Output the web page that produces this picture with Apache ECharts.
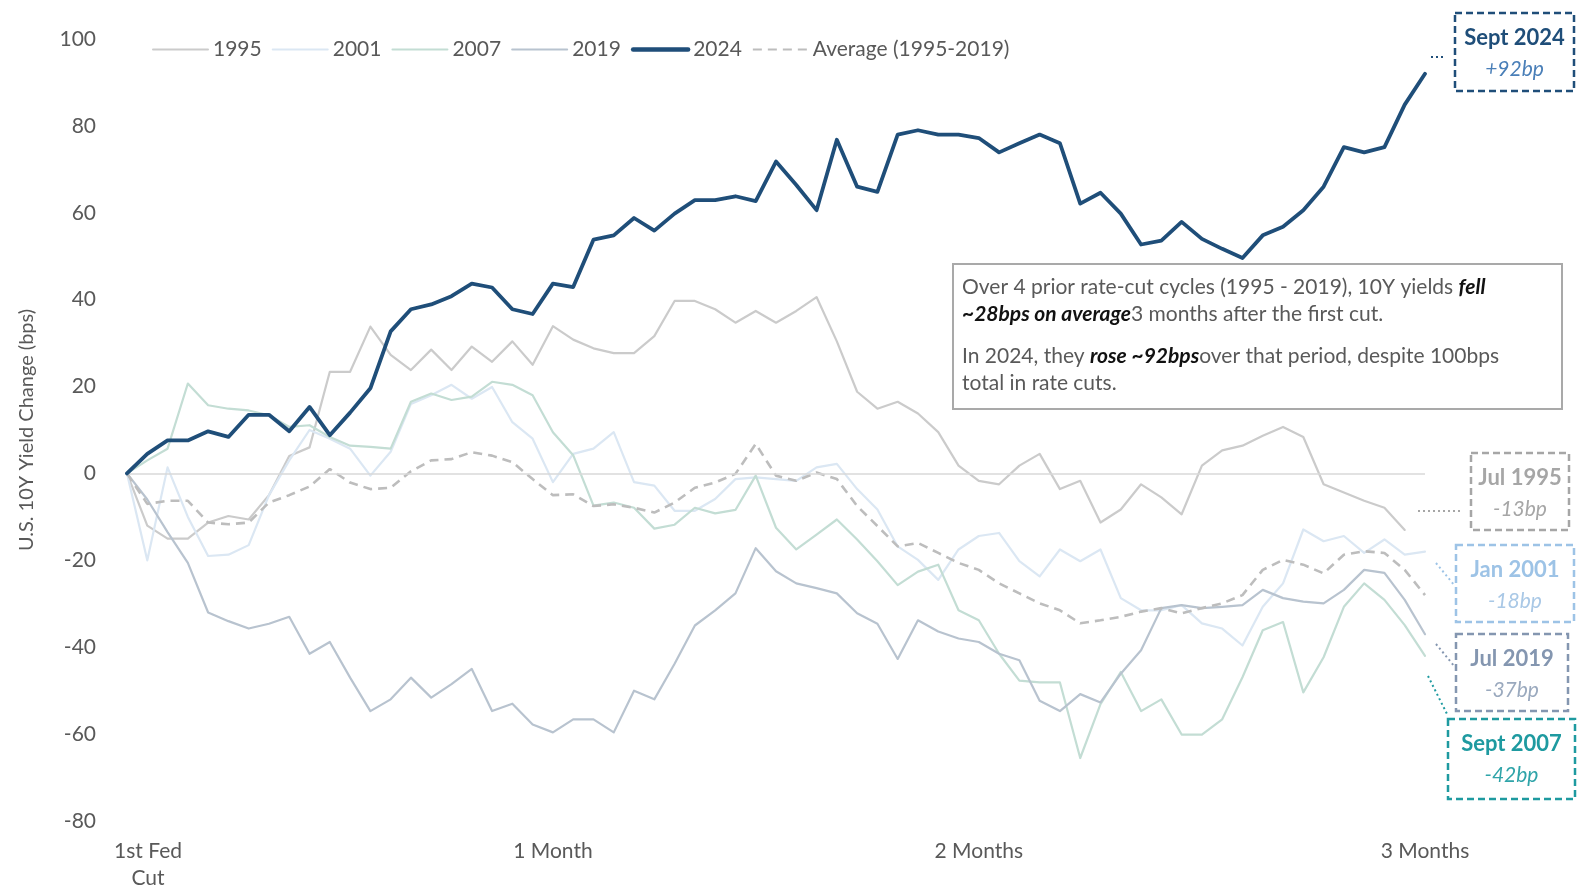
<!DOCTYPE html>
<html>
<head>
<meta charset="utf-8">
<script src="https://cdn.jsdelivr.net/npm/echarts@6/dist/echarts.min.js"></script>
<style>
  html, body { margin: 0; padding: 0; background: #ffffff; }
  #chart { width: 1577px; height: 888px; }
</style>
</head>
<body>
<div id="chart"></div>
<script>
// Trading days after the first Fed cut (0 = day of the cut)
const dayCount = 65;
const days = Array.from({ length: dayCount }, (_, i) => String(i));

// x-axis tick labels and the day they sit on
const xTickDays = [0, 21, 42, 64];
const xTickText = ['1st Fed\nCut', '1 Month', '2 Months', '3 Months'];

// y-axis range (bps)
const yMin = -80, yMax = 100, yStep = 20;

// Change in the U.S. 10Y yield since the first cut, bps
const y1995 = [0, -12, -15, -15, -11.3, -9.8, -10.6, -5, 4, 6, 23.4, 23.4, 33.8, 27.3, 23.8, 28.5, 23.8, 29.2, 25.7, 30.4,
  25, 33.9, 30.8, 28.8, 27.7, 27.7, 31.6, 39.7, 39.7, 37.8, 34.7, 37.4, 34.7, 37.4, 40.6, 30.4, 18.8, 14.9, 16.5, 13.8,
  9.5, 1.8, -1.7, -2.5, 1.8, 4.5, -3.6, -1.7, -11.3, -8.3, -2.5, -5.5, -9.4, 1.8, 5.3, 6.4, 8.7, 10.7, 8.4, -2.5,
  -4.4, -6.3, -7.9, -13];
const y2001 = [0, -20, 1.4, -10, -19, -18.7, -16.5, -5, 3, 10, 8, 5.7, -0.5, 5, 16, 18, 20.4, 17.2, 19.9, 11.8,
  8, -2, 4.5, 5.7, 9.5, -2, -2.8, -8.6, -8.6, -5.9, -1.3, -0.9, -1.3, -1.7, 1.4, 2.2, -3.6, -8.3, -16.8, -19.9,
  -24.5, -17.5, -14.4, -13.7, -20.2, -23.7, -17.5, -20.2, -17.5, -28.7, -31.5, -31.5, -30.3, -34.5, -35.7, -39.6, -30.7, -25.3, -12.9, -15.6,
  -14.4, -18.3, -15.2, -18.7, -18];
const y2007 = [0, 3, 5.7, 20.7, 15.7, 14.9, 14.5, 13.4, 10.7, 11.1, 8.4, 6.4, 6.1, 5.7, 16.5, 18.4, 16.9, 17.7, 21.1, 20.4,
  18, 9.5, 4.2, -7.4, -6.7, -7.9, -12.7, -11.8, -7.9, -9.2, -8.4, -0.5, -12.5, -17.5, -14.1, -10.6, -15.2, -20.2, -25.7, -22.6,
  -21, -31.5, -33.8, -41.5, -47.7, -48.1, -48.1, -65.5, -53.1, -45.7, -54.7, -52, -60.1, -60.1, -56.6, -46.9, -36.1, -34.2, -50.4, -42.3,
  -30.7, -25.3, -29.1, -34.9, -42];
const y2019 = [0, -6, -13.5, -20.6, -32, -34, -35.7, -34.6, -33, -41.5, -38.8, -47, -54.7, -52, -47, -51.6, -48.5, -45, -54.7, -53,
  -57.8, -59.6, -56.6, -56.6, -59.6, -50, -52, -43.8, -35, -31.5, -27.6, -17.2, -22.5, -25.3, -26.4, -27.6, -32.2, -34.6, -42.7, -33.8,
  -36.4, -38, -38.8, -41.5, -43, -52.3, -54.7, -50.8, -52.7, -46.1, -40.7, -31, -30.3, -31, -30.7, -30.3, -26.8, -28.7, -29.5, -29.9,
  -26.8, -22.2, -22.9, -29.1, -37];
const y2024 = [0, 4.5, 7.6, 7.6, 9.7, 8.4, 13.5, 13.5, 9.7, 15.3, 8.8, 14, 19.6, 32.7, 37.8, 38.9, 40.8, 43.7, 42.8, 37.8,
  36.7, 43.7, 42.9, 53.8, 54.8, 58.8, 55.9, 59.8, 62.9, 62.9, 63.8, 62.7, 71.8, 66.4, 60.6, 76.8, 66, 64.8, 78, 79,
  78, 78, 77.2, 73.9, 76, 78, 76, 62.1, 64.6, 59.8, 52.7, 53.6, 57.9, 54, 51.7, 49.6, 54.8, 56.8, 60.6, 66,
  75.1, 73.9, 75.1, 84.9, 92];
const yAvg = [0, -7, -6.3, -6.3, -11.3, -11.7, -11.3, -6.7, -5, -3, 1, -2.1, -3.6, -3.3, 0.5, 3, 3.3, 4.9, 4.1, 2.6,
  -1.3, -5, -4.8, -7.5, -7.1, -7.9, -9, -6.7, -3.3, -2.1, -0.1, 6.8, -0.5, -1.7, 0.2, -1.3, -7.5, -12.1, -16.8, -16,
  -18.3, -20.6, -22.2, -25.3, -27.6, -29.9, -31.5, -34.5, -33.8, -33, -31.8, -31, -32.2, -31, -29.9, -28, -22.2, -19.9, -21, -23,
  -18.7, -17.9, -18.3, -22.2, -28];

const FONT = 'Lato, "Noto Sans", sans-serif';
const TEXT = '#595959';
const FS = 21;

const last = arr => arr[arr.length - 1];
const bp = v => (v > 0 ? '+' : '') + Math.round(v) + 'bp';

const chart = echarts.init(document.getElementById('chart'), null, { renderer: 'canvas' });

function lineSeries(name, data, color, width, extra) {
  return Object.assign({
    name, type: 'line', data,
    symbol: 'none', showSymbol: false,
    lineStyle: { color, width, cap: 'round', join: 'round' },
    itemStyle: { color },
    emphasis: { disabled: true },
    silent: true
  }, extra || {});
}

// Dashed call-out box with a cycle name and its 3-month change
function tag(x, y, w, h, color, title, value, valueColor) {
  return {
    type: 'group', x, y, silent: true,
    children: [
      { type: 'rect', shape: { x: 0, y: 0, width: w, height: h },
        style: { fill: '#ffffff', stroke: color, lineWidth: 2.5, lineDash: [7, 4] } },
      { type: 'text', x: w / 2, y: 25,
        style: { text: title, fill: color, font: `bold 22px ${FONT}`, align: 'center', verticalAlign: 'middle' } },
      { type: 'text', x: w / 2, y: 56,
        style: { text: value, fill: valueColor, font: `italic 21px ${FONT}`, align: 'center', verticalAlign: 'middle' } }
    ]
  };
}

function dots(points, color) {
  return { type: 'polyline', silent: true, shape: { points },
    style: { stroke: color, lineWidth: 2, lineDash: [2, 3], fill: null } };
}

const avgText = '~' + Math.abs(Math.round(last(yAvg))) + 'bps on average';
const riseText = 'rose ~' + Math.round(last(y2024)) + 'bps';

chart.setOption({
  animation: false,
  backgroundColor: '#ffffff',
  textStyle: { fontFamily: FONT },
  grid: { left: 127, right: 152, top: 39, bottom: 67, containLabel: false, outerBoundsMode: 'none' },
  legend: {
    left: 147, top: 34,
    itemWidth: 55, itemHeight: 14, itemGap: 10,
    itemStyle: { opacity: 0, borderWidth: 0 },
    textStyle: { color: TEXT, fontSize: FS, fontFamily: FONT },
    data: ['1995', '2001', '2007', '2019', { name: '2024', lineStyle: { width: 4.5 } }, 'Average (1995-2019)'],
    selectedMode: false
  },
  xAxis: {
    type: 'category', data: days, boundaryGap: false,
    axisLine: { show: false, onZero: false }, axisTick: { show: false },
    splitLine: { show: false },
    axisLabel: {
      interval: 0, margin: 17, color: TEXT, fontSize: FS, lineHeight: 27, fontFamily: FONT,
      formatter: (v, i) => {
        const k = xTickDays.indexOf(Number(v));
        if (k < 0) return '';
        if (k === 0) return xTickText[0].split('\n').map(s => '{f|' + s + '}').join('\n');
        return xTickText[k];
      },
      rich: { f: { color: TEXT, fontSize: FS, lineHeight: 27, fontFamily: FONT, padding: [0, 0, 0, 42] } }
    }
  },
  yAxis: {
    type: 'value', min: yMin, max: yMax, interval: yStep,
    name: 'U.S. 10Y Yield Change (bps)', nameLocation: 'middle', nameGap: 90, nameRotate: 90,
    nameTextStyle: { color: TEXT, fontSize: 20, fontFamily: FONT },
    axisLine: { show: false }, axisTick: { show: false }, splitLine: { show: false },
    axisLabel: { color: TEXT, fontSize: FS, margin: 31, fontFamily: FONT, padding: [4, 0, 0, 0] }
  },
  series: [
    lineSeries('1995', y1995, '#cbcbcb', 2.2, {
      markLine: { silent: true, symbol: 'none', label: { show: false },
        lineStyle: { color: '#d9d9d9', width: 1.5, type: 'solid' }, data: [{ yAxis: 0 }] }
    }),
    lineSeries('2001', y2001, '#dbe7f3', 2.2),
    lineSeries('2007', y2007, '#c3ddd4', 2.2),
    lineSeries('2019', y2019, '#b8c3cf', 2.2),
    lineSeries('Average (1995-2019)', yAvg, '#bdbdbd', 2.6, { lineStyle: { color: '#bdbdbd', width: 2.6, type: [9, 6] } }),
    lineSeries('2024', y2024, '#1f4e79', 3.8, { z: 5 })
  ],
  graphic: [
    // commentary box
    { type: 'rect', silent: true, shape: { x: 953, y: 264, width: 609, height: 145 },
      style: { fill: '#ffffff', stroke: '#a9a9a9', lineWidth: 2 },
      z: 10 },
    { type: 'text', silent: true, x: 962, y: 274, z: 11,
      style: {
        text: '{n|Over 4 prior rate-cut cycles (1995 - 2019), 10Y yields }{b|fell}\n' +
              '{b|' + avgText + '}{n|3 months after the first cut.}\n' +
              '{g| }\n' +
              '{n|In 2024, they }{b|' + riseText + '}{n|over that period, despite 100bps}\n' +
              '{n|total in rate cuts.}',
        rich: {
          n: { fill: TEXT, font: `${FS}px ${FONT}`, lineHeight: 27 },
          b: { fill: '#111111', font: `italic bold ${FS}px ${FONT}`, lineHeight: 27 },
          g: { font: `8px ${FONT}`, lineHeight: 15 }
        }
      } },

    // end-of-period call-outs
    tag(1455, 13, 119, 78, '#1f4e79', 'Sept 2024', bp(last(y2024)), '#4a7fb8'),
    dots([[1431, 57], [1445, 57]], '#1f4e79'),

    tag(1471, 453, 98, 77, '#a6a6a6', 'Jul 1995', bp(last(y1995)), '#a6a6a6'),
    dots([[1418, 511], [1462, 511]], '#a6a6a6'),

    tag(1456, 545, 118, 77, '#9dc3e6', 'Jan 2001', bp(last(y2001)), '#a9c8e6'),
    dots([[1436, 563], [1455, 586]], '#9dc3e6'),

    tag(1456, 634, 112, 77, '#8496b0', 'Jul 2019', bp(last(y2019)), '#9aa9be'),
    dots([[1436, 644], [1455, 667]], '#8496b0'),

    tag(1448, 719, 127, 80, '#1e9aa0', 'Sept 2007', bp(last(y2007)), '#2fa4a9'),
    dots([[1428, 676], [1448, 716]], '#1e9aa0')
  ]
});
</script>
</body>
</html>
